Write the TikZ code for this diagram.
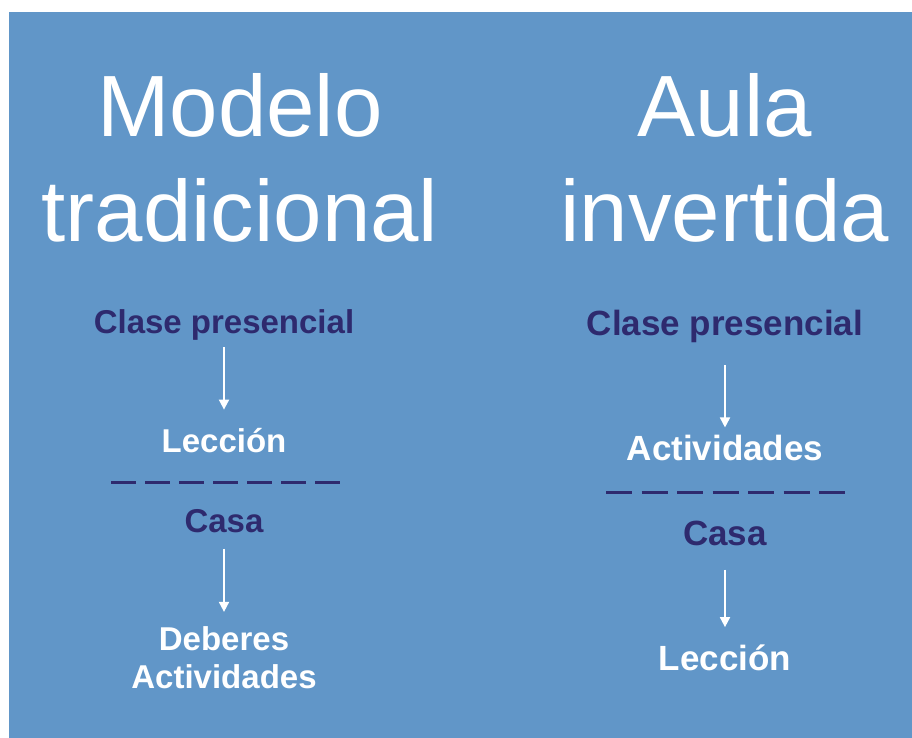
\documentclass[tikz,border=0pt]{standalone}
\usepackage{fontspec}
\setmainfont{Liberation Sans}
\usetikzlibrary{arrows.meta}
\definecolor{bgblue}{RGB}{97,150,200}
\definecolor{navy}{RGB}{46,42,110}
\begin{document}
\begin{tikzpicture}[x=1pt,y=-1pt,
  title/.style={text=white,inner sep=0pt,anchor=base,font=\fontsize{87}{87}\selectfont},
  lblL/.style={inner sep=0pt,anchor=base,font=\fontsize{33}{33}\selectfont\bfseries},
  lblR/.style={inner sep=0pt,anchor=base,font=\fontsize{35}{35}\selectfont\bfseries},
  dk/.style={text=navy},
  wt/.style={text=white},
  arr/.style={draw=white,line width=1.8pt,-{Triangle[length=10pt,width=10pt]}},
  sep/.style={draw=navy,line width=3pt}]
\useasboundingbox (0,0) rectangle (912,738);
\fill[bgblue] (9,12) rectangle (912,738);
% titles
\node[title] (t1) at (240,137) {Modelo};
\node[title] (t2) at (240,241) {tradicional};
\node[title] (t3) at (725,137) {Aula};
\node[title] (t4) at (725,241) {invertida};
% left column
\node[lblL,dk] (lcp) at (224,333) {Clase presencial};
\node[lblL,wt] (llec) at (224,452) {Lección};
\node[lblL,dk] (lcasa) at (224,532) {Casa};
\node[lblL,wt] (ldeb) at (224,650) {Deberes};
\node[lblL,wt] (lact) at (224,688) {Actividades};
\coordinate (ld1) at (111,482);
\coordinate (ld2) at (340,482);
\draw[sep,dash pattern=on 25pt off 9pt] (ld1) -- (ld2);
\draw[arr,shorten <=7pt,shorten >=18pt] (lcp.south) -- (llec.north);
\draw[arr,shorten <=16pt,shorten >=14pt] (lcasa.south) -- (ldeb.north);
% right column
\node[lblR,dk] (rcp) at (725,335) {Clase presencial};
\node[lblR,wt] (ract) at (725,460) {Actividades};
\node[lblR,dk] (rcasa) at (725,545) {Casa};
\node[lblR,wt] (rlec) at (725,670) {Lección};
\coordinate (rd1) at (606,492);
\coordinate (rd2) at (846,492);
\draw[sep,dash pattern=on 26pt off 9.5pt] (rd1) -- (rd2);
\draw[arr,shorten <=23pt,shorten >=7pt] (rcp.south) -- (ract.north);
\draw[arr,shorten <=24pt,shorten >=17pt] (rcasa.south) -- (rlec.north);
\end{tikzpicture}
\end{document}
